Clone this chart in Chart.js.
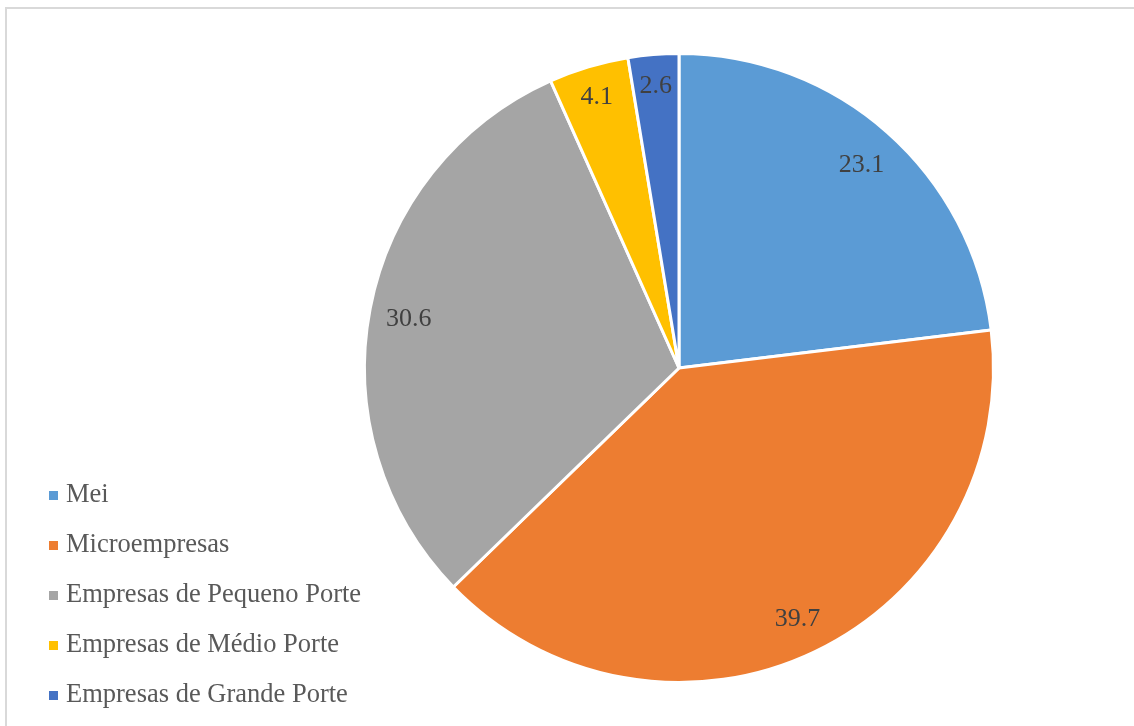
<!DOCTYPE html>
<html>
<head>
<meta charset="utf-8">
<script src="https://cdn.jsdelivr.net/npm/chart.js@4/dist/chart.umd.min.js"></script>
<style>
  html,body{margin:0;padding:0;background:#fff;overflow:hidden}
  #wrap{position:relative;width:1134px;height:726px}
  #frame{position:absolute;left:5px;top:7px;right:-4px;bottom:-4px;border:2px solid #d9d9d9;box-sizing:border-box}
  #chart{position:absolute;left:0;top:0}
  #legend{position:absolute;left:49px;top:478px;font-family:"Liberation Serif","Times New Roman",serif;font-size:26.5px;color:#595959}
  #legend .item{height:50px;line-height:30px;white-space:nowrap}
  #legend .sw{display:inline-block;width:9px;height:9px;margin-right:8px;vertical-align:2px}
</style>
</head>
<body>
<div id="wrap">
  <div id="frame"></div>
  <canvas id="chart" width="1134" height="726"></canvas>
  <div id="legend"></div>
</div>
<script>
const categories = ["Mei","Microempresas","Empresas de Pequeno Porte","Empresas de Médio Porte","Empresas de Grande Porte"];
const values = [23.1, 39.7, 30.6, 4.1, 2.6];
const colors = ["#5b9bd5","#ed7d31","#a5a5a5","#ffc000","#4472c4"];

// rótulos de valor dentro das fatias
const sliceLabels = {
  id:"sliceLabels",
  afterDatasetsDraw(chart){
    const ctx=chart.ctx, meta=chart.getDatasetMeta(0);
    ctx.save();
    ctx.font='26px "Liberation Serif","Times New Roman",serif';
    ctx.fillStyle="#404040"; ctx.textAlign="center"; ctx.textBaseline="middle";
    meta.data.forEach((arc,i)=>{
      const mid=(arc.startAngle+arc.endAngle)/2;
      const f=values[i]<5?0.91:0.875;
      const r=arc.outerRadius*f;
      ctx.fillText(values[i].toFixed(1), arc.x+Math.cos(mid)*r, arc.y+Math.sin(mid)*r+3);
    });
    ctx.restore();
  }
};

new Chart(document.getElementById("chart"),{
  type:"pie",
  data:{labels:categories,datasets:[{data:values,backgroundColor:colors,borderColor:"#fff",borderWidth:3}]},
  options:{
    responsive:false,animation:false,
    layout:{padding:{left:363,right:139,top:52,bottom:42}},
    plugins:{legend:{display:false},tooltip:{enabled:false}}
  },
  plugins:[sliceLabels]
});

const box=document.getElementById("legend");
categories.forEach((c,i)=>{
  const it=document.createElement("div"); it.className="item";
  const sw=document.createElement("span"); sw.className="sw"; sw.style.background=colors[i];
  it.appendChild(sw); it.appendChild(document.createTextNode(c)); box.appendChild(it);
});
</script>
</body>
</html>
